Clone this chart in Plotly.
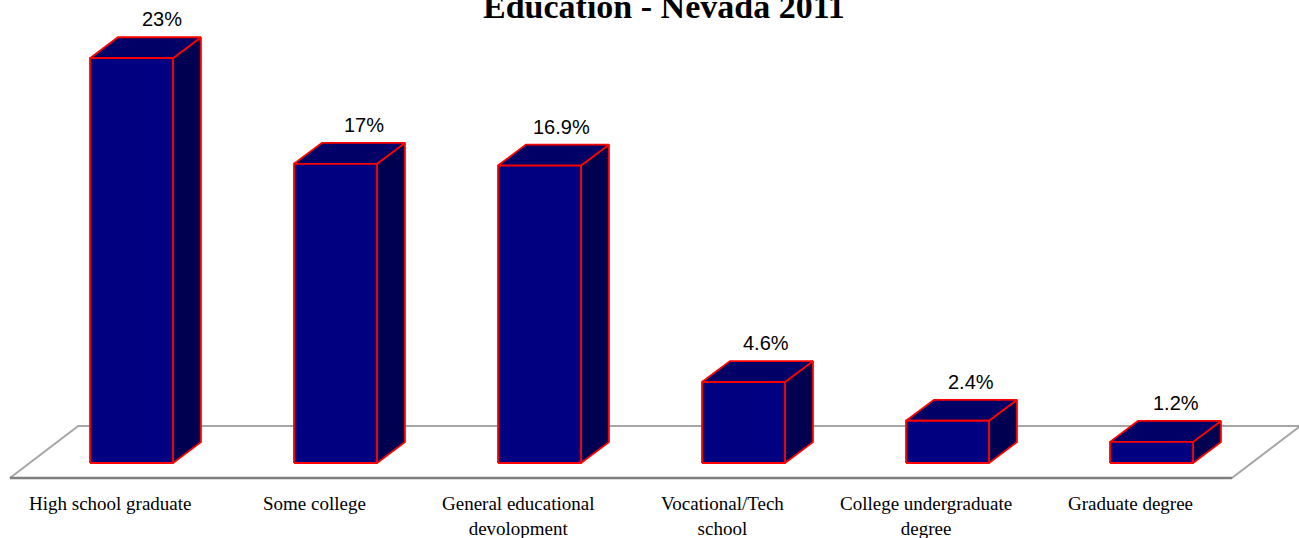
"""
Education - Nevada 2011: pseudo-3D column chart drawn with filled scatter polygons.
"""

import plotly.graph_objects as go

# Data
categories = [
    "High school graduate",
    "Some college",
    "General educational<br>devolopment",
    "Vocational/Tech<br>school",
    "College undergraduate<br>degree",
    "Graduate degree",
]
values = [23, 17, 16.9, 4.6, 2.4, 1.2]
value_labels = ["23%", "17%", "16.9%", "4.6%", "2.4%", "1.2%"]

# Styling
FRONT = "#000080"
TOP = "#000066"
SIDE = "#000050"
EDGE = "#FF0000"
FLOOR = "#A6A6A6"
FLOOR_FRONT = "#7F7F7F"

# Geometry in data units (1 x-unit = one category slot, y-unit = percent)
HALF_W = 0.2034     # half width of a bar front face
DX = 0.137          # depth offset, x
DY = 1.19           # depth offset, y
FLOOR_DX = 0.335
FLOOR_DY = 2.95
FLOOR_FRONT_Y = -0.85

W, H = 1299, 538
X_RANGE = [-0.6446, 5.723]
Y_RANGE = [-4.261, 26.307]


def poly(xs, ys, fill, line_color, width):
    return go.Scatter(
        x=xs + [xs[0]], y=ys + [ys[0]],
        mode="lines", fill="toself", fillcolor=fill,
        line=dict(color=line_color, width=width),
        hoverinfo="skip", showlegend=False,
    )


fig = go.Figure()

# floor
n = len(categories)
fl, fr = -0.596, n - 1 + 0.394
floor_x = [fl, fr, fr + FLOOR_DX, fl + FLOOR_DX]
floor_y = [FLOOR_FRONT_Y, FLOOR_FRONT_Y, FLOOR_FRONT_Y + FLOOR_DY, FLOOR_FRONT_Y + FLOOR_DY]
fig.add_trace(poly(floor_x, floor_y, "#FFFFFF", FLOOR, 2))
fig.add_trace(go.Scatter(
    x=[fl, fr], y=[FLOOR_FRONT_Y, FLOOR_FRONT_Y], mode="lines",
    line=dict(color=FLOOR_FRONT, width=2.5), hoverinfo="skip", showlegend=False,
))

# bars
for i, v in enumerate(values):
    x0, x1 = i - HALF_W, i + HALF_W
    # side face
    fig.add_trace(poly([x1, x1 + DX, x1 + DX, x1], [0, DY, v + DY, v], SIDE, EDGE, 1.8))
    # top face
    fig.add_trace(poly([x0, x1, x1 + DX, x0 + DX], [v, v, v + DY, v + DY], TOP, EDGE, 1.8))
    # front face
    fig.add_trace(poly([x0, x1, x1, x0], [0, 0, v, v], FRONT, EDGE, 1.8))

label_dx = [0.15, 0.14, 0.108, 0.11, 0.113, 0.12]
annotations = []
for i, (v, lab) in enumerate(zip(values, value_labels)):
    annotations.append(dict(
        x=i + label_dx[i], y=v + DY, xref="x", yref="y", text=lab, showarrow=False,
        yanchor="middle", yshift=18,
        font=dict(family="Liberation Sans, Arial, sans-serif", size=20, color="#000000"),
    ))
for i, cat in enumerate(categories):
    annotations.append(dict(
        x=i - 0.103, y=-1.6, xref="x", yref="y", text=cat, showarrow=False,
        yanchor="top", align="center",
        font=dict(family="Liberation Serif, Times New Roman, serif", size=19, color="#000000"),
    ))
annotations.append(dict(
    x=664 / W, y=1 - 6 / H, xref="paper", yref="paper",
    text="<b>Education - Nevada 2011</b>", showarrow=False,
    xanchor="center", yanchor="middle",
    font=dict(family="Liberation Serif, Times New Roman, serif", size=34, color="#000000"),
))

fig.update_layout(
    width=W, height=H,
    margin=dict(l=0, r=0, t=0, b=0),
    plot_bgcolor="#FFFFFF", paper_bgcolor="#FFFFFF",
    xaxis=dict(range=X_RANGE, visible=False, fixedrange=True),
    yaxis=dict(range=Y_RANGE, visible=False, fixedrange=True),
    annotations=annotations,
    showlegend=False,
)

fig.write_html(
    "out.html",
    config={"displayModeBar": False},
    post_script="document.body.style.margin = '0';",
)
